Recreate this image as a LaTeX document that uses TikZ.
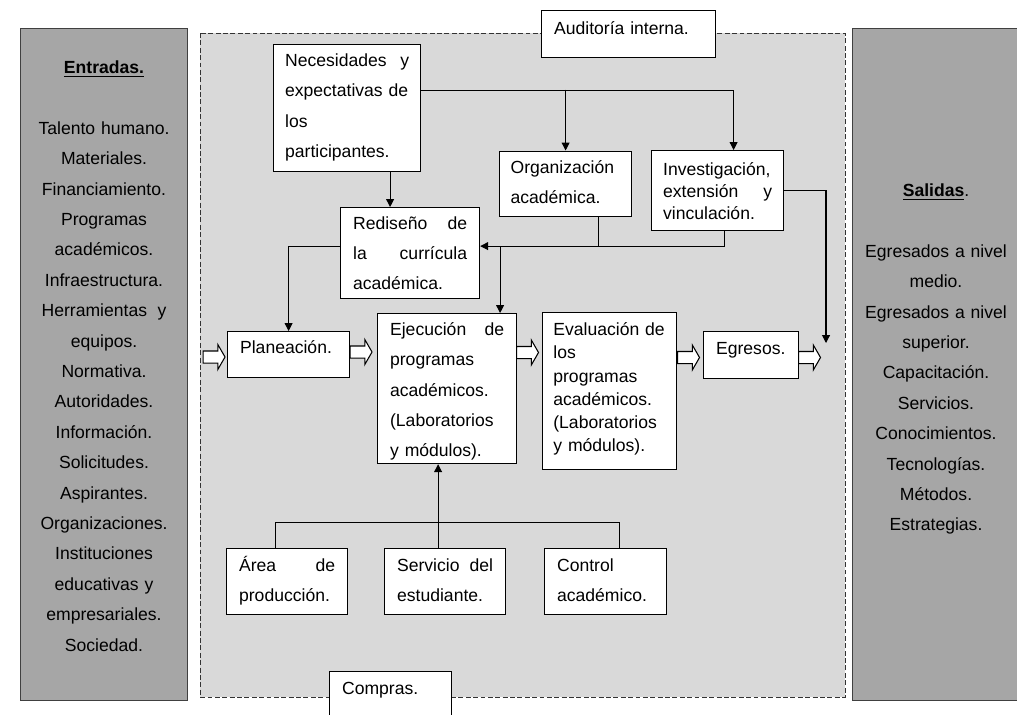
\documentclass[tikz,border=0pt]{standalone}
\usepackage{fontspec}
\setmainfont{Liberation Sans}
\usetikzlibrary{arrows.meta,shapes.arrows}

\begin{document}
\begin{tikzpicture}[x=0.02cm,y=-0.02cm,
	caja/.style={draw, fill=white, line width=0.7pt, anchor=north west, inner xsep=0.25cm, inner ysep=0pt, align=left, font=\fontsize{10}{17.2}\selectfont},
	lateral/.style={draw=black!75, fill=black!35, line width=0.6pt, anchor=north west, inner xsep=0.25cm, inner ysep=0pt, align=center, text width=2.84cm, font=\fontsize{10}{17.3}\selectfont},
	linea/.style={line width=0.6pt},
	flecha/.style={linea, -{Triangle[length=4.5pt,width=4.5pt]}},
	hueca/.style={single arrow, draw, fill=white, line width=0.6pt, anchor=tail, inner xsep=0pt, inner ysep=0.11cm, minimum height=0.44cm, single arrow head extend=0.13cm, single arrow tip angle=120}]
					\useasboundingbox (0,0) rectangle (1017,714);
					% zona del proceso
					\filldraw[fill=black!15, draw=black!80, line width=0.5pt, dash pattern=on 2.8pt off 1.4pt] (200,33) rectangle (845,697);
					% entradas y salidas
					\node[lateral, text height=0.91cm, text depth=12.54cm] (ent) at (20,27.5) {\textbf{\underline{Entradas.}}\\[17.3pt] Talento humano.\\ Materiales.\\ Financiamiento.\\ Programas\\ académicos.\\ Infraestructura.\\ Herramientas\hspace{0.6em}y\\ equipos.\\ Normativa.\\ Autoridades.\\ Información.\\ Solicitudes.\\ Aspirantes.\\ Organizaciones.\\ Instituciones\\ educativas y\\ empresariales.\\ Sociedad.};
					\node[lateral, text height=3.36cm, text depth=10.08cm] (sal) at (852,28) {\textbf{\underline{Salidas}}.\\[17.3pt] Egresados a nivel\\ medio.\\ Egresados a nivel\\ superior.\\ Capacitación.\\ Servicios.\\ Conocimientos.\\ Tecnologías.\\ Métodos.\\ Estrategias.};
					% cajas
					\node[caja, text width=2.98cm, text height=0.48cm, text depth=0.46cm] (aud) at (541,10) {Auditoría interna.};
					\node[caja, inner xsep=0.23cm, text width=2.48cm, text height=0.44cm, text depth=2.10cm] (nec) at (273,44) {Necesidades\hfill y\\ expectativas de\\ los\\ participantes.};
					\node[caja, inner xsep=0.22cm, text width=2.20cm, text height=0.45cm, text depth=0.86cm] (org) at (499,150.5) {Organización\\ académica.};
					\node[caja, inner xsep=0.23cm, text width=2.18cm, text height=0.50cm, text depth=1.10cm, font=\fontsize{10}{12.6}\selectfont] (inv) at (651,150) {Investigación,\\ extensión\hfill y\\ vinculación.};
					\node[caja, text width=2.28cm, text height=0.43cm, text depth=1.39cm] (red) at (340,207) {Rediseño\hfill de\\ la\hfill currícula\\ académica.};
					\node[caja, text width=1.94cm, text height=0.44cm, text depth=0.48cm] (pla) at (227,331) {Planeación.};
					\node[caja, text width=2.28cm, text height=0.44cm, text depth=2.56cm] (eje) at (377,313) {Ejecución\hfill de\\ programas\\ académicos.\\ (Laboratorios\\ y módulos).};
					\node[caja, inner xsep=0.225cm, text width=2.24cm, text height=0.46cm, text depth=2.68cm, font=\fontsize{10}{13.2}\selectfont] (eva) at (541.5,312) {Evaluación de\\ los\\ programas\\ académicos.\\ (Laboratorios\\ y módulos).};
					\node[caja, text width=1.40cm, text height=0.45cm, text depth=0.49cm] (egr) at (703,331) {Egresos.};
					\node[caja, text width=1.92cm, text height=0.46cm, text depth=0.86cm] (are) at (226,548) {Área\hfill de\\ producción.};
					\node[caja, text width=1.92cm, text height=0.46cm, text depth=0.86cm] (ser) at (384,548) {Servicio\hfill del\\ estudiante.};
					\node[caja, text width=1.94cm, text height=0.46cm, text depth=0.86cm] (con) at (544,548) {Control\\ académico.};
					\node[caja, text width=1.94cm, text height=0.45cm, text depth=1.00cm] (com) at (329,671) {Compras.};
					% flechas huecas
					\node[hueca] (fl1) at (202.5,357) {};
					\node[hueca] (fl2) at (349.5,352) {};
					\node[hueca] (fl3) at (516,352.5) {};
					\node[hueca] (fl4) at (677,357.5) {};
					\node[hueca] (fl5) at (798,357.5) {};
					% conectores
					\coordinate (j1) at ([yshift=0.14cm]red.east);
					\coordinate (s1) at (826,343);
					\draw[flecha] ([yshift=0.36cm]nec.east) -| ([xshift=0.32cm]inv.north);
					\draw[flecha] (org.north |- 0,89.5) -- (org.north);
					\draw[flecha] ([xshift=0.86cm]nec.south) -- ([xshift=0.86cm]nec.south |- red.north);
					\draw[flecha] ([xshift=0.14cm]inv.south) |- (j1);
					\draw[linea] ([xshift=0.65cm]org.south) -- ([xshift=0.65cm]org.south |- j1);
					\draw[flecha] ([xshift=1.06cm]eje.north |- j1) -- ([xshift=1.06cm]eje.north);
					\draw[flecha] ([yshift=0.14cm]red.west) -| (pla.north);
					\draw[flecha] (inv.east) -| (s1);
					\draw[linea] ([xshift=-0.23cm]are.north) -- ++(0,-25.3) -| ([xshift=0.28cm]con.north);
					\draw[flecha] ([xshift=-0.14cm]ser.north) -- ([xshift=-0.14cm]ser.north |- eje.south);
				\end{tikzpicture}
\end{document}
